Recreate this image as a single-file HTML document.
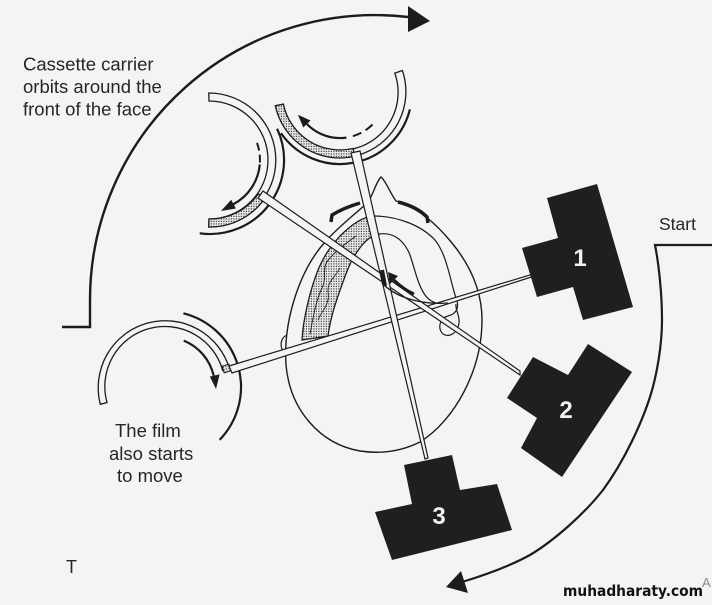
<!DOCTYPE html>
<html><head><meta charset="utf-8"><style>
html,body{margin:0;padding:0;background:#f4f4f2;}
svg{display:block;}
text{font-family:"Liberation Sans",Arial,sans-serif;fill:#262626;}
</style></head><body>
<svg width="712" height="605" viewBox="0 0 712 605" xmlns="http://www.w3.org/2000/svg">
<defs>
<pattern id="dots" width="2.5" height="2.5" patternUnits="userSpaceOnUse">
<rect width="2.5" height="2.5" fill="#e8e8e6"/><rect x="0.8" y="0.8" width="1.2" height="1.2" fill="#444"/>
</pattern>
</defs>
<rect width="712" height="605" fill="#f4f4f2"/>

<!-- big left orbit arc -->
<path d="M62,327 L90,327 L90,300 A285,285 0 0,1 408,17" fill="none" stroke="#1c1c1c" stroke-width="2.4"/>
<polygon points="408,6 430,21 408,32" fill="#1c1c1c"/>

<!-- right Start arc -->
<path d="M712,245 L655,245 C659,265 662,295 662,320 C662,345 657,375 650,397 C642,422 625,460 603,490 C585,513 555,540 530,555 C510,566 485,575 462,582" fill="none" stroke="#1c1c1c" stroke-width="2.2"/>
<polygon points="446,587 461,571 468,593" fill="#1c1c1c"/>

<!-- head outline -->
<path d="M381,177 C386,181 390,193 396,201 C415,206 435,222 452,243 C470,265 482,290 482,320 C482,370 455,420 420,442 C400,452 380,454 360,451 C320,444 290,410 286,365 C283,320 300,270 325,242 C340,225 358,212 368,202 C373,195 376,182 381,177 Z" fill="none" stroke="#1c1c1c" stroke-width="1.4"/>
<path d="M287,335 C280,338 279,348 285,353" fill="none" stroke="#1c1c1c" stroke-width="1.2"/>

<!-- stippled mandible band -->
<path d="M302,340 C303,320 310,290 318,270 C324,256 330,247 340,236 C350,226 362,217 373,216 L376,235 C368,237 360,246 352,260 C346,272 340,290 335,305 C331,318 329,328 328,336 Z" fill="url(#dots)" stroke="#1c1c1c" stroke-width="1.3"/>
<path d="M310,334 C313,318 316,300 322,288 C328,276 320,268 330,258 C337,250 345,244 356,236" fill="none" stroke="#1c1c1c" stroke-width="0.9"/>
<path d="M318,320 C322,310 330,305 328,292 C327,282 336,276 340,268" fill="none" stroke="#1c1c1c" stroke-width="0.8"/>

<!-- inner contours -->
<path d="M373,216 C395,216 420,224 435,240 C447,255 450,280 456,298 C460,308 456,314 448,316 C440,318 437,328 443,334 C449,338 458,333 459,323 C460,315 455,310 456,304" fill="none" stroke="#1c1c1c" stroke-width="1.2"/>
<path d="M375,235 C392,230 404,240 410,255 C415,270 418,285 425,295 C430,302 436,303 442,305" fill="none" stroke="#1c1c1c" stroke-width="1.2"/>

<!-- thick marks on head -->
<path d="M331,222 L332,215 C340,210 350,206 360,203" fill="none" stroke="#1c1c1c" stroke-width="3.5"/>
<path d="M398,202 C410,205 420,210 427,217 L428,223" fill="none" stroke="#1c1c1c" stroke-width="3.5"/>

<!-- Cassette B (position 1) -->
<path d="M100.3,404.3 A67,67 0 0,1 229.4,368.5 L222.7,370.5 A60,60 0 0,0 107,402.5 Z" fill="#f4f4f2" stroke="#1c1c1c" stroke-width="1.3"/>
<rect x="223" y="365" width="7" height="7" fill="url(#dots)" stroke="#1c1c1c" stroke-width="1" transform="rotate(-17 226.5 368.5)"/>
<path d="M183.4,313.3 A76,76 0 0,1 219.7,439.8" fill="none" stroke="#1c1c1c" stroke-width="2.2"/>
<path d="M183.7,340.6 A50,50 0 0,1 213.7,375.8" fill="none" stroke="#1c1c1c" stroke-width="2.2"/>
<polygon points="209.8,376.6 219.6,374.4 216,389" fill="#1c1c1c"/>

<!-- Cassette A (position 2) -->
<path d="M208.8,93 A67,67 0 1,1 208.8,227 L209,219 A59,59 0 1,0 209,101 Z" fill="#f4f4f2" stroke="#1c1c1c" stroke-width="1.3"/>
<path d="M264.9,198.4 A67,67 0 0,1 208.8,227 L209,219 A59,59 0 0,0 258.3,193.8 Z" fill="url(#dots)" stroke="#1c1c1c" stroke-width="1.3"/>
<path d="M277.1,128.7 A74,74 0 0,1 199.7,233.3" fill="none" stroke="#1c1c1c" stroke-width="2.2"/>
<path d="M257,142.9 A50,50 0 0,1 259.9,162.6" fill="none" stroke="#1c1c1c" stroke-width="2" stroke-dasharray="8,4"/>
<path d="M259.8,164.4 A50,50 0 0,1 233.5,204.1" fill="none" stroke="#1c1c1c" stroke-width="2.2"/>
<polygon points="235.9,208.5 231.2,199.7 221,211" fill="#1c1c1c"/>

<!-- Cassette C (position 3) -->
<path d="M402.4,70.5 A66,66 0 1,1 275.4,105.7 L283.3,104.1 A58,58 0 1,0 394.8,73.1 Z" fill="#f4f4f2" stroke="#1c1c1c" stroke-width="1.3"/>
<path d="M354.8,156.3 A66,66 0 0,1 275.4,105.7 L283.3,104.1 A58,58 0 0,0 353,148.5 Z" fill="url(#dots)" stroke="#1c1c1c" stroke-width="1.3"/>
<path d="M409.9,109.4 A72,72 0 0,1 281,133.3" fill="none" stroke="#1c1c1c" stroke-width="2.2"/>
<path d="M372.5,124.5 A46,46 0 0,1 349.6,137" fill="none" stroke="#1c1c1c" stroke-width="2" stroke-dasharray="9,5"/>
<path d="M346.4,137.6 A46,46 0 0,1 306.9,124" fill="none" stroke="#1c1c1c" stroke-width="2.2"/>
<polygon points="303.3,127.5 310.5,120.5 297.9,114.7" fill="#1c1c1c"/>

<!-- arms / bars -->
<polygon points="229,366 533,274 533,276.5 232,373" fill="#f4f4f2" stroke="#1c1c1c" stroke-width="1.2"/>
<polygon points="263,191 520,371 520,375 258,198" fill="#f4f4f2" stroke="#1c1c1c" stroke-width="1.2"/>
<polygon points="351,153 360,151 428,458 425,459" fill="#f4f4f2" stroke="#1c1c1c" stroke-width="1.2"/>

<!-- centre rotation marks -->
<path d="M382,270 L385,286" stroke="#1c1c1c" stroke-width="4"/>
<path d="M382,283 C395,297 420,305 448,303" fill="none" stroke="#1c1c1c" stroke-width="1.3"/>
<path d="M414,294 C405,290 399,285 394,280" fill="none" stroke="#1c1c1c" stroke-width="3"/>
<polygon points="388,272 390,284 398,276" fill="#1c1c1c"/>

<!-- tubes -->
<polygon points="547,198 597,184 633,307 583,320 573,287 537,297 522,248 558,238" fill="#1f1f1f"/>
<polygon points="588,344 632,372 562,477 521,448 537,418 507,398 533,357 568,375" fill="#1f1f1f"/>
<polygon points="404,465 452,455 460,490 497,484 512,530 392,560 375,512 412,504" fill="#1f1f1f"/>
<text x="580" y="266" font-size="24" font-weight="bold" text-anchor="middle" style="fill:#f2f2f2">1</text>
<text x="566" y="418" font-size="24" font-weight="bold" text-anchor="middle" style="fill:#f2f2f2">2</text>
<text x="439" y="524" font-size="24" font-weight="bold" text-anchor="middle" style="fill:#f2f2f2">3</text>

<!-- labels -->
<text x="23" y="70.5" font-size="18.5">Cassette carrier</text>
<text x="23" y="93" font-size="18.5">orbits around the</text>
<text x="23" y="115.5" font-size="18.5">front of the face</text>
<text x="115" y="437" font-size="18.5">The film</text>
<text x="109" y="460" font-size="18.5">also starts</text>
<text x="117" y="482" font-size="18.5">to move</text>
<text x="659" y="230" font-size="17.5">Start</text>
<text x="66" y="573" font-size="18">T</text>
<text x="563" y="596" font-size="15" font-weight="bold" textLength="140" lengthAdjust="spacingAndGlyphs" style="font-family:'DejaVu Sans','Liberation Sans',sans-serif;fill:#111">muhadharaty.com</text>
<text x="702" y="587" font-size="13" style="fill:#888">A</text>
</svg>
</body></html>
